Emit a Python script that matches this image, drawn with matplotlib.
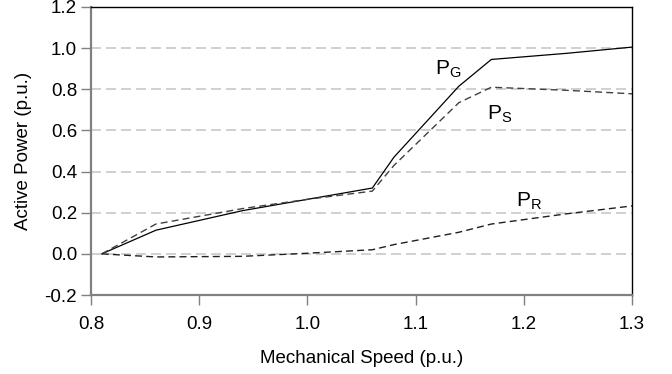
import matplotlib
matplotlib.use('Agg')
import matplotlib.pyplot as plt
import numpy as np

# values
speed = [0.81, 0.86, 0.94, 1.00, 1.06, 1.08, 1.14, 1.17, 1.24, 1.30]
p_g = [0.0, 0.115, 0.21, 0.265, 0.32, 0.47, 0.815, 0.945, 0.975, 1.005]
p_s = [0.0, 0.145, 0.22, 0.265, 0.305, 0.43, 0.735, 0.81, 0.795, 0.778]
p_r = [0.0, -0.015, -0.012, 0.003, 0.02, 0.045, 0.105, 0.145, 0.195, 0.233]

x_ticks = [0.8, 0.9, 1.0, 1.1, 1.2, 1.3]
y_ticks = [-0.2, 0.0, 0.2, 0.4, 0.6, 0.8, 1.0, 1.2]


def plot_data(save_path):
    plt.rcParams['font.family'] = ['Liberation Sans', 'DejaVu Sans']
    plt.rcParams['mathtext.fontset'] = 'custom'
    plt.rcParams['mathtext.rm'] = 'Liberation Sans'
    fig = plt.figure(figsize=(6.72, 3.74), dpi=100)
    ax = fig.add_axes([0.1354, 0.2112, 0.8051, 0.7701])

    # dashed grid lines
    for y in y_ticks[1:-1]:
        ax.axhline(y, color='#c8c8c8', lw=1.2, ls=(0, (6, 3)), zorder=0)

    ax.plot(speed, p_g, color='black', lw=0.9)
    ax.plot(speed, p_s, color='#404040', lw=1.0, ls=(0, (5, 3)))
    ax.plot(speed, p_r, color='#202020', lw=1.0, ls=(0, (5, 3)))

    ax.text(1.118, 0.9, r'P$_\mathrm{G}$', fontsize=15, va='center')
    ax.text(1.166, 0.68, r'P$_\mathrm{S}$', fontsize=15, va='center')
    ax.text(1.193, 0.255, r'P$_\mathrm{R}$', fontsize=15, va='center')

    ax.set_xlim(0.8, 1.3)
    ax.set_ylim(-0.2, 1.2)
    ax.set_xticks(x_ticks)
    ax.set_yticks(y_ticks)
    ax.set_xticklabels(['%.1f' % v for v in x_ticks])
    ax.set_yticklabels(['%.1f' % v for v in y_ticks])
    ax.tick_params(direction='out', length=7, width=1, color='#808080',
                   labelsize=13.5)
    ax.tick_params(axis='x', pad=8)
    ax.tick_params(axis='y', pad=3)
    for side in ['left', 'bottom']:
        ax.spines[side].set_color('#808080')
        ax.spines[side].set_linewidth(1.6)
    for side in ['top', 'right']:
        ax.spines[side].set_color('black')
        ax.spines[side].set_linewidth(1.0)

    ax.set_xlabel('Mechanical Speed (p.u.)', fontsize=13.5, labelpad=12)
    ax.set_ylabel('Active Power (p.u.)', fontsize=13.5, labelpad=9)
    plt.savefig(save_path, dpi=100)
    return


def main():
    plot_data('out.png')


if __name__ == "__main__":
    main()
